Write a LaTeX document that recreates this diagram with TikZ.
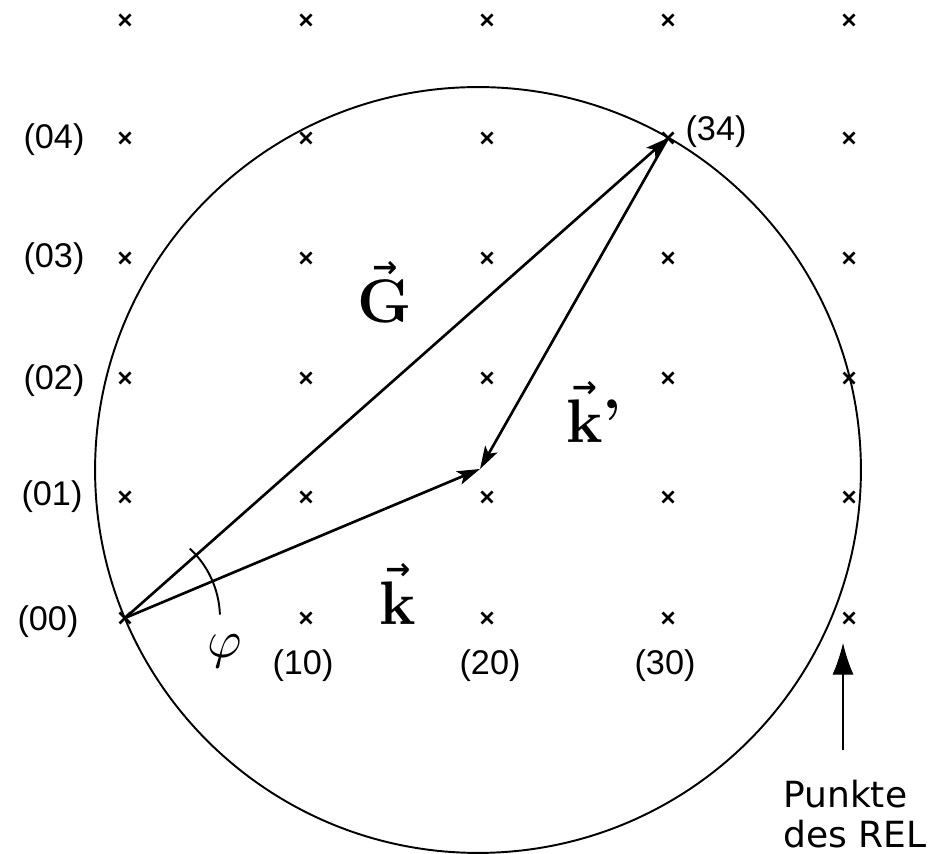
\documentclass[tikz,border=0pt]{standalone}
\usepackage{fontspec}
\setmainfont{Liberation Sans}
\newfontfamily\puntfont{DejaVu Sans}
\newfontfamily\arrfont{DejaVu Sans Bold}
\newfontfamily\lmfont{Latin Modern Roman}
\newfontfamily\lmmathfont{Latin Modern Math}
\newcommand\vlab[2]{\vbox{\offinterlineskip\halign{\hfil##\hfil\cr{\arrfont\fontsize{17}{17}\selectfont →}\cr\noalign{\kern1pt}{\lmfont\bfseries\fontsize{35}{35}\selectfont #1}\cr}}{\lmfont\bfseries\fontsize{35}{35}\selectfont #2}}
\usetikzlibrary{arrows.meta}
\begin{document}
\begin{tikzpicture}[x=0.02cm,y=0.02cm,
  lbl/.style={font=\fontsize{19.5}{22}\selectfont, inner sep=0pt},
  vec/.style={line width=1.5pt, -{Stealth[length=13pt,width=8pt,inset=3pt]}},
  crossmk/.style={line width=1.5pt},
  biglbl/.style={inner sep=0pt}]
\useasboundingbox (0,0) rectangle (946,854);
% lattice crosses
\foreach \x in {125,306,487,668,849}{
  \foreach \y in {834,716,596,476,357,236}{
    \draw[crossmk] (\x-5.5,\y-5.5) -- (\x+5.5,\y+5.5) (\x-5.5,\y+5.5) -- (\x+5.5,\y-5.5);
  }}
% named points
\coordinate (O) at (125,236);
\coordinate (P34) at (668,716);
\coordinate (M) at (480,385);
\coordinate (C) at (478,384);
% Ewald circle
\draw[line width=1.1pt] (C) circle[radius=7.66cm];
% vectors
\draw[vec] (O) -- (P34);
\draw[vec] (O) -- (M);
\draw[vec] (P34) -- (M);
% angle arc
\draw[line width=1.1pt] (O) ++(2:1.9cm) arc[start angle=2,end angle=47,radius=1.9cm];
\node[font=\lmmathfont\fontsize{30}{32}\selectfont, inner sep=0pt] (phi) at (225,202) {\symbol{"1D711}};
% labels
\node[lbl] (l04) at (54,714) {(04)};
\node[lbl] (l03) at (54,595) {(03)};
\node[lbl] (l02) at (54,473) {(02)};
\node[lbl] (l01) at (52,357) {(01)};
\node[lbl] (l00) at (48,232) {(00)};
\node[lbl] (l10) at (303,188) {(10)};
\node[lbl] (l20) at (490,188) {(20)};
\node[lbl] (l30) at (665,188) {(30)};
\node[lbl] (l34) at (716,722) {(34)};
% vector labels
\node[biglbl] (G) at (385,562) {\vlab{G}{}};
\node[biglbl] (kp) at (594,442) {\vlab{k}{’}};
\node[biglbl] (k) at (398,260) {\vlab{k}{}};
% Punkte des REL
\node[font=\puntfont\fontsize{20.5}{23}\selectfont, align=left, anchor=west, inner sep=0pt] (punkte) at (783,40) {Punkte\\des REL};
\coordinate (arrtail) at (843,104);
\coordinate (arrhead) at (843,211);
\draw[line width=0.6pt, -{Latex[length=18pt,width=12pt]}] (arrtail) -- (arrhead);
\end{tikzpicture}
\end{document}
